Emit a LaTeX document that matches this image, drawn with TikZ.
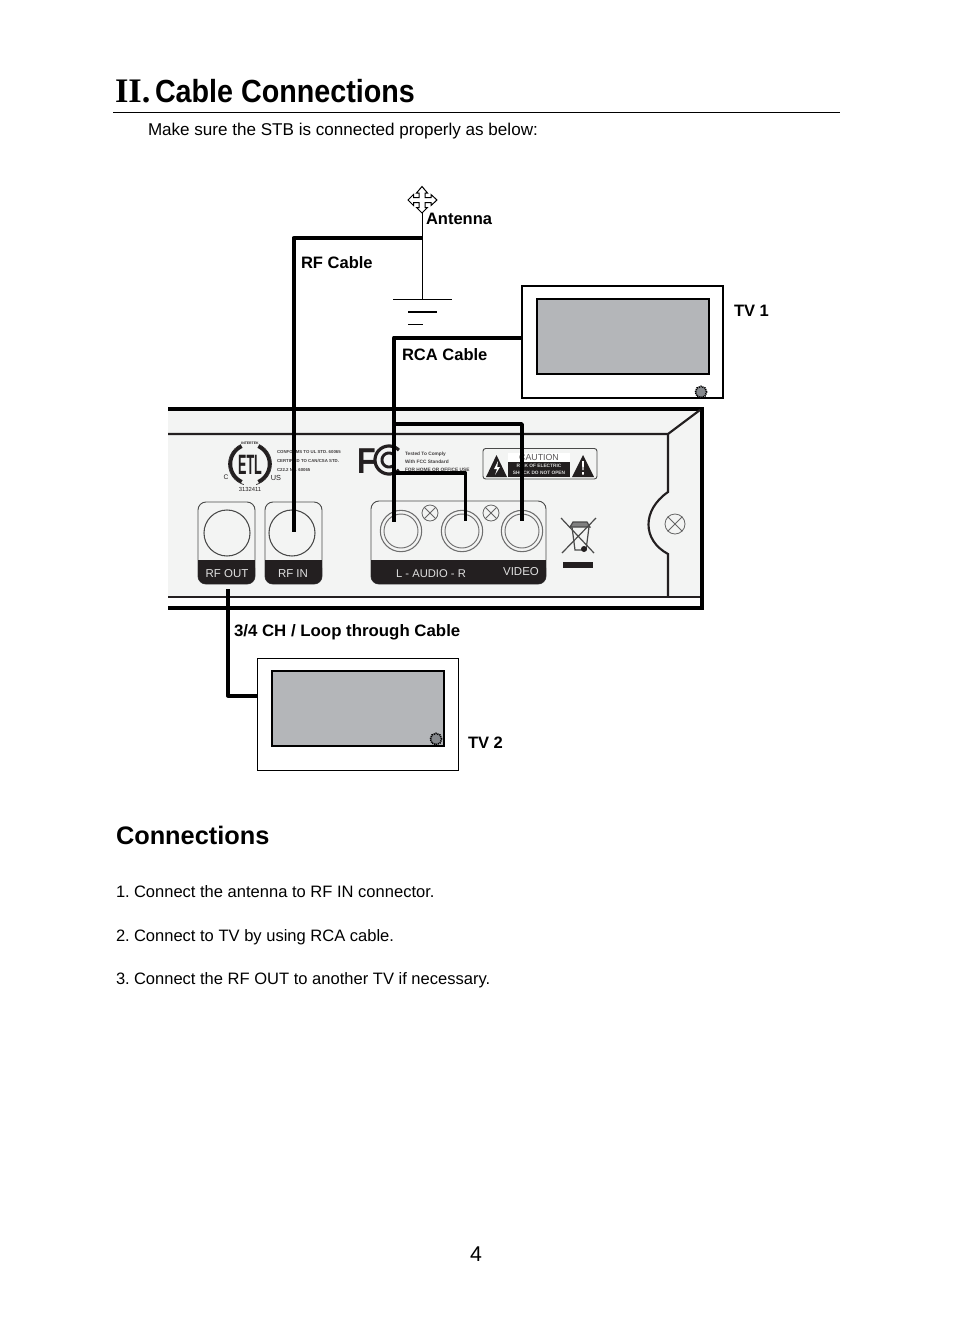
\documentclass[tikz,border=0pt]{standalone}
\usepackage{fontspec}
\setmainfont{Liberation Sans}
\newfontfamily\serifbold{Liberation Serif}[Scale=1]
\usetikzlibrary{calc}
\definecolor{panelc}{HTML}{F3F4F3}
\definecolor{screenc}{HTML}{B4B6B9}
\definecolor{bandc}{HTML}{231F20}
\definecolor{ringc}{HTML}{4A4A4A}
\definecolor{knobc}{HTML}{85888C}
\tikzset{
  cable/.style={line width=3pt,black,line join=round},
  thinwire/.style={line width=.75pt,black},
  chassis/.style={line width=3pt,black},
  chassisthin/.style={line width=1.6pt,bandc},
  lab/.style={anchor=base west,inner sep=0pt,outer sep=0pt},
  cablelabel/.style={lab,font=\fontsize{12.4}{14}\selectfont\bfseries},
  body/.style={lab,font=\fontsize{12.4}{14}\selectfont},
  tvouter/.style={draw=black,fill=white,minimum width=150.75pt,minimum height=84pt,inner sep=0pt,outer sep=0pt},
  tvscreen/.style={draw=black,line width=1.5pt,fill=screenc,minimum width=129pt,minimum height=56.25pt,inner sep=0pt,outer sep=0pt},
  knob/.style={circle,draw=black,line width=1.2pt,dash pattern=on .9pt off .6pt,fill=knobc,minimum size=8.5pt,inner sep=0pt},
  jack/.style={circle,draw=ringc,line width=.8pt,fill=panelc,inner sep=0pt},
  bandtext/.style={inner sep=0pt,text=white!88!black,font=\fontsize{8.6}{10}\selectfont},
  tiny/.style={lab,text=bandc!85!white,font=\fontsize{3.25}{4}\selectfont\bfseries},
  tinyf/.style={lab,text=bandc!85!white,font=\fontsize{3.6}{4}\selectfont\bfseries},
  portbox/.style={draw=ringc,line width=.7pt,rounded corners=6pt,fill=panelc},
  portband/.style={fill=bandc,rounded corners=6pt},
  markarc/.style={bandc,line width=2.6pt},
}
\begin{document}
\begin{tikzpicture}[x=.75pt,y=-.75pt]
\useasboundingbox (0,0) rectangle (954,1343);
% Heading
\node[lab,font=\fontsize{25.8}{28}\selectfont\serifbold\bfseries] (hroman) at (115,102) {II.};
\node[lab,font=\fontsize{24}{28}\selectfont\bfseries,xscale=.897] (htitle) at (155,102) {Cable Connections};
\draw[line width=.8pt] (113,112.5) -- (840,112.5);
\node[lab,font=\fontsize{12.8}{15}\selectfont] (intro) at (148,135) {Make sure the STB is connected properly as below:};

% Set-top box panel
\fill[panelc] (168,408) rectangle (702,608);
\fill[white] (168,598) rectangle (702,606);
\draw[chassis] (168,408.5) -- (702,408.5) -- (702,607.5) -- (168,607.5);
\draw[chassisthin] (168,597) -- (700,597);
\draw[chassisthin] (168,434) -- (668,434) -- (700,410);
\draw[chassisthin] (668,434) -- (668,492) .. controls (642,510) and (642,540) .. (668,554) -- (668,597);

% ETL mark
\draw[bandc,line width=.5pt] (250,464) circle (21.5);
\draw[markarc] plot[domain=115:245,samples=24,smooth] ({250+19.5*cos(\x)},{464+19.5*sin(\x)});
\draw[markarc] plot[domain=-65:65,samples=24,smooth] ({250+19.5*cos(\x)},{464+19.5*sin(\x)});
\node[fill=panelc,inner sep=.6pt,font=\fontsize{2.6}{3}\selectfont\bfseries,text=bandc] (etltop) at (250,443) {INTERTEK};
\node[fill=panelc,inner sep=.6pt,minimum width=9pt,minimum height=2pt] (etlbot) at (250,485.5) {};
\node[inner sep=0pt,font=\fontsize{21}{22}\selectfont\bfseries,xscale=.45,text=bandc] (etltext) at (250,465) {ETL};
\node[inner sep=0pt,font=\fontsize{5}{6}\selectfont,text=bandc] (etlc) at (226,477) {C};
\node[inner sep=0pt,font=\fontsize{5.5}{6}\selectfont,text=bandc] (etlus) at (276,478) {US};
\node[inner sep=0pt,font=\fontsize{4.4}{5}\selectfont,text=bandc] (etlnum) at (250,489.5) {3132411};
\node[tiny] (c1) at (277,453.5) {CONFORMS TO UL STD. 60065};
\node[tiny] (c2) at (277,462.5) {CERTIFIED TO CAN/CSA STD.};
\node[tiny] (c3) at (277,471.5) {C22.2 No. 60065};

% FCC mark
\node[lab,font=\fontsize{27}{28}\selectfont\bfseries,xscale=.85,text=bandc] (fcc) at (357,473) {F};
\draw[markarc,line width=2.4pt] plot[domain=45:315,samples=36,smooth] ({389+14*cos(\x)},{460+14*sin(\x)});
\draw[markarc,line width=2.2pt] plot[domain=45:315,samples=36,smooth] ({389+7*cos(\x)},{460+7*sin(\x)});
\node[tinyf] (f1) at (405,455.5) {Tested To Comply};
\node[tinyf] (f2) at (405,463.5) {With FCC Standard};
\node[tinyf] (f3) at (405,471.5) {FOR HOME OR OFFICE USE};

% Caution label
\draw[draw=ringc,line width=.7pt,rounded corners=2pt,fill=panelc] (483,448.5) rectangle (597,479);
\fill[bandc] (486,477) -- (496.5,455) -- (507,477) -- cycle;
\fill[bandc] (572,477) -- (583,455) -- (594,477) -- cycle;
\fill[white] (498,461) -- (494,469) -- (497,469) -- (495,475) -- (500,467) -- (497.3,467) -- cycle;
\fill[white] (582,461) -- (584,461) -- (583.6,470) -- (582.4,470) -- cycle (582.2,472) rectangle (583.8,474.5);
\node[fill=white,minimum width=46pt,minimum height=6.5pt,inner sep=0pt,font=\fontsize{6.6}{7}\selectfont,text=bandc!75!white] (cauttext) at (539,457.5) {CAUTION};
\node[fill=bandc,minimum width=46pt,minimum height=11pt,inner sep=0pt,align=center,font=\fontsize{3.6}{5}\selectfont\bfseries,text=white!85!black] (cautrisk) at (539,469.5) {RISK OF ELECTRIC\\SHOCK DO NOT OPEN};

% RF OUT
\draw[portbox] (198,502) rectangle (255,584);
\fill[portband] (198,584) -- (198,560) -- (255,560) -- (255,584) -- cycle;
\fill[bandc] (198,560) rectangle (255,570);
\node[jack,minimum size=34.5pt] (rfout) at (227,533) {};
\node[bandtext] (rfoutl) at (227,574) {RF OUT};
% RF IN
\draw[portbox] (265,502) rectangle (322,584);
\fill[portband] (265,584) -- (265,560) -- (322,560) -- (322,584) -- cycle;
\fill[bandc] (265,560) rectangle (322,570);
\node[jack,minimum size=34.5pt] (rfin) at (292,533) {};
\node[bandtext] (rfinl) at (293,574) {RF IN};
% AV
\draw[portbox] (371,501) rectangle (546,584);
\fill[portband] (371,584) -- (371,560) -- (546,560) -- (546,584) -- cycle;
\fill[bandc] (371,560) rectangle (546,570);
\foreach \n/\x in {audl/401,audr/462,vid/522}{
  \node[jack,draw=ringc!80!white,minimum size=31pt] (\n) at (\x,531) {};
  \node[circle,draw=ringc!80!white,line width=.7pt,minimum size=25.5pt,inner sep=0pt] (\n i) at (\x,531) {};
}
\node[bandtext,font=\fontsize{8.4}{10}\selectfont] (audlab) at (431,574) {L - AUDIO - R};
\node[bandtext] (vidlab) at (521,572) {VIDEO};
% Screws
\foreach \n/\x/\y/\r in {s1/430/513/12,s2/491/513/12,s3/675/524/15}{
  \node[circle,draw=ringc!85!white,line width=.6pt,fill=panelc,minimum size=\r pt,inner sep=0pt] (\n) at (\x,\y) {};
  \draw[ringc!85!white,line width=.6pt] (\n.45) -- (\n.225) (\n.135) -- (\n.315);
}
% WEEE bin
\draw[ringc,line width=.9pt] (572,527) -- (575,550) -- (586,550) -- (589,527);
\draw[ringc,line width=.9pt,fill=ringc!70!white] (570,527) -- (590,527) -- (587,522) -- (573,522) -- cycle;
\draw[ringc,line width=.9pt] (561,518) -- (594,553) (596,518) -- (562,553);
\fill[bandc] (584,549) circle (3);
\fill[bandc] (563,562) rectangle (593,568);

% TVs
\node[tvouter,line width=1.5pt] (tv1) at (622.5,342) {};
\node[tvscreen] (tv1s) at (623,336.5) {};
\node[knob] (tv1k) at (701,392) {};
\node[tvouter,line width=.7pt] (tv2) at (357.5,714) {};
\node[tvscreen] (tv2s) at (358,708.5) {};
\node[knob] (tv2k) at (436,739) {};

% Antenna
\draw[thinwire,fill=white] (422,186.5) -- (427.5,193) -- (425,193) -- (425,197.5) -- (431,197.5) -- (431,194.5) -- (437,200) -- (431,205.5) -- (431,202.5) -- (425,202.5) -- (425,207.5) -- (427.5,207.5) -- (422,213) -- (416.5,207.5) -- (419,207.5) -- (419,202.5) -- (413.5,202.5) -- (413.5,205.5) -- (408,200) -- (413.5,194.5) -- (413.5,197.5) -- (419,197.5) -- (419,193) -- (416.5,193) -- cycle;
\coordinate (ant) at (422,213);
\coordinate (gnd) at (422,299);
\coordinate (split) at (422,238);
\draw[thinwire] (ant) -- (gnd);
\draw[thinwire] (393,299) -- (452,299);
\draw[line width=1.2pt] (408,312) -- (437,312);
\draw[thinwire] (408,324) -- (423,324);

% Cables
\coordinate (rfinend) at (293.5,532);
\coordinate (tv1in) at (522,337.5);
\coordinate (tap1) at (394,424);
\coordinate (tap2) at (394,473);
\coordinate (audlend) at (394,522);
\coordinate (audrend) at (465.5,521);
\coordinate (vidend) at (522,521);
\coordinate (rfoutend) at (228,589);
\coordinate (tv2in) at (257,695.5);
\draw[cable] (split) -| (rfinend);
\draw[cable] (tv1in) -| (audlend);
\draw[cable,line width=2.6pt] (tap1) -| (vidend);
\draw[cable,line width=2.6pt] (tap2) -| (audrend);
\draw[cable] (rfoutend) |- (tv2in);

% Labels
\node[cablelabel] (lant) at (426,224) {Antenna};
\node[cablelabel] (lrf) at (301,268) {RF Cable};
\node[cablelabel] (lrca) at (402,360) {RCA Cable};
\node[cablelabel] (ltv1) at (734,316) {TV 1};
\node[cablelabel] (ltv2) at (468,748) {TV 2};
\node[cablelabel,xscale=1.018] (lloop) at (234,636) {3/4 CH / Loop through Cable};

% Text
\node[lab,font=\fontsize{19}{22}\selectfont\bfseries] (conn) at (116,844.5) {Connections};
\node[body] (s1n) at (116,897) {1.};
\node[body] (s1) at (134,897) {Connect the antenna to RF IN connector.};
\node[body] (s2n) at (116,941) {2.};
\node[body] (s2) at (134,941) {Connect to TV by using RCA cable.};
\node[body] (s3n) at (116,984) {3.};
\node[body] (s3) at (134,984) {Connect the RF OUT to another TV if necessary.};
\node[lab,font=\fontsize{16}{18}\selectfont] (pg) at (470,1261) {4};
\end{tikzpicture}
\end{document}
